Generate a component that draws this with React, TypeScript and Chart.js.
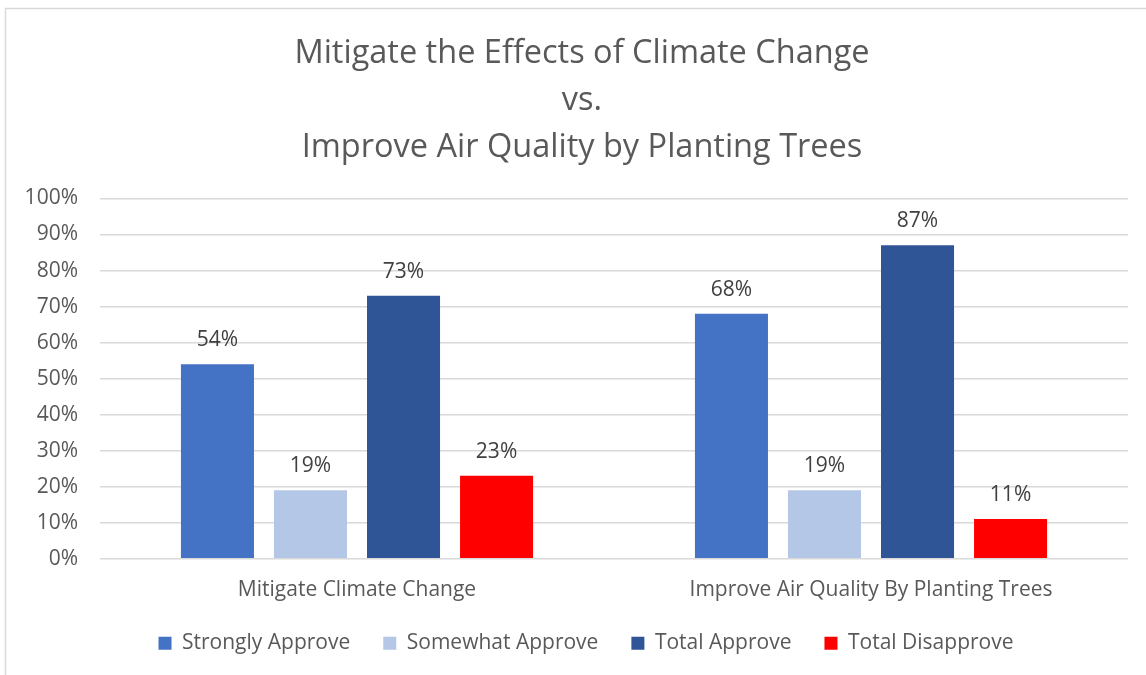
import React, { useEffect, useRef } from "react";
import { Chart, registerables } from "chart.js";

Chart.register(...registerables);

const categories = ["Mitigate Climate Change", "Improve Air Quality By Planting Trees"];
const seriesNames = ["Strongly Approve", "Somewhat Approve", "Total Approve", "Total Disapprove"];
const stronglyApprove = [54, 68];
const somewhatApprove = [19, 19];
const totalApprove = [73, 87];
const totalDisapprove = [23, 11];
const seriesColors = ["#4472C4", "#B4C7E7", "#2F5597", "#FF0000"];
const titleLines = [
  "Mitigate the Effects of Climate Change",
  "vs.",
  "Improve Air Quality by Planting Trees",
];

const FONT = "'Open Sans', sans-serif";

const labelPlugin = {
  id: "barLabels",
  afterDatasetsDraw(chart: any) {
    const ctx = chart.ctx;
    ctx.save();
    ctx.font = `21px ${FONT}`;
    ctx.fillStyle = "#404040";
    ctx.textAlign = "center";
    ctx.textBaseline = "middle";
    chart.data.datasets.forEach((ds: any, i: number) => {
      const meta = chart.getDatasetMeta(i);
      meta.data.forEach((bar: any, j: number) => {
        ctx.fillText(ds.data[j] + "%", bar.x, bar.y - 24);
      });
    });
    ctx.restore();
  },
};

const shiftPlugin = {
  id: "shiftBlocks",
  afterLayout(chart: any) {
    const t = chart.titleBlock;
    if (t) {
      t.left += 13;
      t.right += 13;
    }
    const l = chart.legend;
    if (l) {
      l.left += 17;
      l.right += 17;
      l.top -= 3;
      l.bottom -= 3;
    }
  },
};

const borderPlugin = {
  id: "frame",
  beforeDraw(chart: any) {
    const ctx = chart.ctx;
    ctx.save();
    ctx.fillStyle = "#ffffff";
    ctx.fillRect(0, 0, chart.width, chart.height);
    ctx.strokeStyle = "#d9d9d9";
    ctx.lineWidth = 1.5;
    ctx.strokeRect(5.5, 8.5, 1300, 800);
    ctx.restore();
  },
};

export default function App() {
  const ref = useRef<HTMLCanvasElement>(null);
  useEffect(() => {
    const values = [stronglyApprove, somewhatApprove, totalApprove, totalDisapprove];
    const chart = new Chart(ref.current!, {
      type: "bar",
      data: {
        labels: categories,
        datasets: seriesNames.map((name, i) => ({
          label: name,
          data: values[i],
          backgroundColor: seriesColors[i],
          borderWidth: 0,
          categoryPercentage: 0.724,
          barPercentage: 0.785,
        })),
      },
      options: {
        animation: false,
        responsive: false,
        maintainAspectRatio: false,
        layout: { padding: { left: 10, right: 18, top: 30.5, bottom: 8.3 } },
        plugins: {
          title: {
            display: true,
            text: titleLines,
            color: "#595959",
            font: { family: FONT, size: 32.5, weight: "normal", lineHeight: 1.446 },
            padding: { top: 0, bottom: 27 },
          },
          legend: {
            position: "bottom",
            labels: {
              color: "#595959",
              font: { family: FONT, size: 21 },
              boxWidth: 13,
              boxHeight: 13,
              padding: 33,
            },
          },
          tooltip: { enabled: false },
        },
        scales: {
          x: {
            grid: { display: false, drawTicks: false },
            border: { display: false },
            ticks: { color: "#595959", font: { family: FONT, size: 21 }, padding: 19, maxRotation: 0 },
            afterFit: (scale: any) => {
              scale.height = 44;
            },
          },
          y: {
            min: 0,
            max: 100,
            ticks: {
              stepSize: 10,
              color: "#595959",
              font: { family: FONT, size: 21 },
              padding: 22,
              callback: (v: any) => v + "%",
            },
            grid: { color: "#d9d9d9", lineWidth: 1.5, drawTicks: false },
            border: { display: false },
            afterFit: (scale: any) => {
              scale.width = 90;
            },
          },
        },
      },
      plugins: [borderPlugin, shiftPlugin, labelPlugin],
    });
    return () => chart.destroy();
  }, []);
  return (
    <div style={{ position: "absolute", left: 0, top: 0, width: 1146, height: 675, overflow: "hidden" }}>
      <canvas ref={ref} width={1146} height={675} style={{ display: "block" }} />
    </div>
  );
}
